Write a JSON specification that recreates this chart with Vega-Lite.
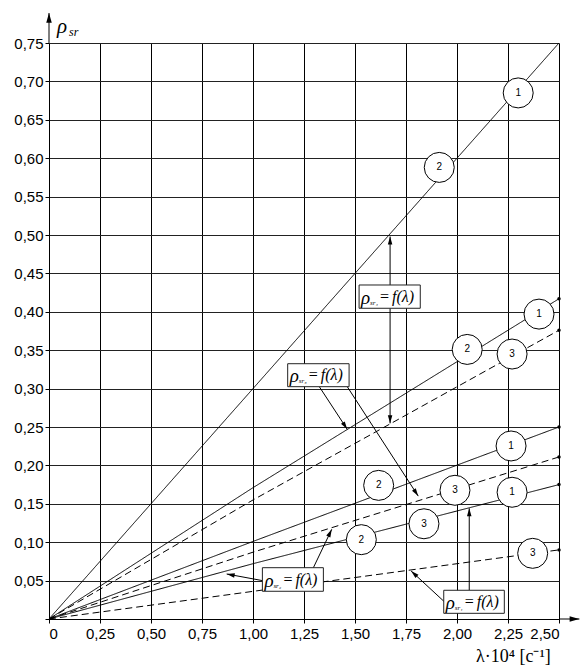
{
  "$schema": "https://vega.github.io/schema/vega-lite/v6.json",
  "width": 510,
  "height": 576,
  "autosize": "none",
  "padding": {"left": 49, "top": 43, "right": 23, "bottom": 49},
  "background": "white",
  "config": {
    "view": {"stroke": null},
    "axis": {
      "grid": true,
      "gridColor": "#000000",
      "gridWidth": 1,
      "gridOpacity": 1,
      "domainColor": "#000000",
      "domainWidth": 1,
      "tickColor": "#000000",
      "tickSize": 4,
      "labelFont": "Liberation Sans",
      "labelFontSize": 15,
      "labelColor": "#000000",
      "labelOverlap": false,
      "title": null
    }
  },
  "datasets": {
    "curves": [
      {"curve": "A", "style": "solid", "x": 0, "y": 0},
      {"curve": "A", "style": "solid", "x": 2.5, "y": 0.75},
      {"curve": "B", "style": "solid", "x": 0, "y": 0},
      {"curve": "B", "style": "solid", "x": 1.0, "y": 0.171},
      {"curve": "B", "style": "solid", "x": 2.5, "y": 0.417},
      {"curve": "C", "style": "dashed", "x": 0, "y": 0},
      {"curve": "C", "style": "dashed", "x": 1.0, "y": 0.155},
      {"curve": "C", "style": "dashed", "x": 2.5, "y": 0.376},
      {"curve": "D", "style": "solid", "x": 0, "y": 0},
      {"curve": "D", "style": "solid", "x": 1.0, "y": 0.101},
      {"curve": "D", "style": "solid", "x": 2.5, "y": 0.25},
      {"curve": "E", "style": "dashed", "x": 0, "y": 0},
      {"curve": "E", "style": "dashed", "x": 1.0, "y": 0.087},
      {"curve": "E", "style": "dashed", "x": 2.5, "y": 0.211},
      {"curve": "F", "style": "solid", "x": 0, "y": 0},
      {"curve": "F", "style": "solid", "x": 1.0, "y": 0.072},
      {"curve": "F", "style": "solid", "x": 2.5, "y": 0.175},
      {"curve": "G", "style": "dashed", "x": 0, "y": 0},
      {"curve": "G", "style": "dashed", "x": 1.0, "y": 0.036},
      {"curve": "G", "style": "dashed", "x": 2.5, "y": 0.09}
    ],
    "ends": [
      {"x": 2.5, "y": 0.417},
      {"x": 2.5, "y": 0.376},
      {"x": 2.5, "y": 0.25},
      {"x": 2.5, "y": 0.211},
      {"x": 2.5, "y": 0.175},
      {"x": 2.5, "y": 0.09}
    ],
    "arrows": [
      {"x": 1.672, "y": 0.435, "x2": 1.672, "y2": 0.498},
      {"x": 1.672, "y": 0.4046, "x2": 1.672, "y2": 0.2548},
      {"x": 1.325, "y": 0.3025, "x2": 1.462, "y2": 0.247},
      {"x": 1.462, "y": 0.3025, "x2": 1.81, "y2": 0.16},
      {"x": 1.296, "y": 0.0668, "x2": 1.386, "y2": 0.1168},
      {"x": 1.046, "y": 0.05, "x2": 0.871, "y2": 0.0586},
      {"x": 2.06, "y": 0.0374, "x2": 2.06, "y2": 0.1441},
      {"x": 1.938, "y": 0.0225, "x2": 1.775, "y2": 0.0625}
    ],
    "axisArrows": [
      {"x": 0, "y": 0.75, "x2": 0, "y2": 0.789},
      {"x": 2.5, "y": 0, "x2": 2.6, "y2": 0}
    ],
    "boxes": [
      {"x1": 1.52, "x2": 1.82, "y1": 0.4349, "y2": 0.4046, "ym": 0.4197, "sub": "sr₄"},
      {"x1": 1.17, "x2": 1.471, "y1": 0.3324, "y2": 0.3025, "ym": 0.3175, "sub": "sr₃"},
      {"x1": 1.046, "x2": 1.345, "y1": 0.0668, "y2": 0.0361, "ym": 0.0514, "sub": "sr₂"},
      {"x1": 1.935, "x2": 2.232, "y1": 0.0374, "y2": 0.0074, "ym": 0.0224, "sub": "sr₁"}
    ],
    "circles": [
      {"x": 2.3, "y": 0.685, "label": "1"},
      {"x": 1.913, "y": 0.588, "label": "2"},
      {"x": 2.402, "y": 0.397, "label": "1"},
      {"x": 2.05, "y": 0.351, "label": "2"},
      {"x": 2.27, "y": 0.345, "label": "3"},
      {"x": 2.265, "y": 0.2253, "label": "1"},
      {"x": 1.616, "y": 0.174, "label": "2"},
      {"x": 1.99, "y": 0.1676, "label": "3"},
      {"x": 2.27, "y": 0.165, "label": "1"},
      {"x": 1.838, "y": 0.124, "label": "3"},
      {"x": 1.531, "y": 0.1033, "label": "2"},
      {"x": 2.371, "y": 0.0855, "label": "3"}
    ]
  },
  "layer": [
    {
      "data": {"name": "curves"},
      "mark": {"type": "line", "color": "#000000", "strokeWidth": 1},
      "encoding": {
        "x": {
          "field": "x", "type": "quantitative",
          "scale": {"domain": [0, 2.5], "nice": false},
          "axis": {
            "values": [0, 0.25, 0.5, 0.75, 1, 1.25, 1.5, 1.75, 2, 2.25, 2.5],
            "tickCount": 30,
            "labelExpr": "datum.value == 0 ? '0' : replace(format(datum.value, '.2f'), '.', ',')",
            "labelPadding": 3
          }
        },
        "y": {
          "field": "y", "type": "quantitative",
          "scale": {"domain": [0, 0.75], "nice": false},
          "axis": {
            "values": [0, 0.05, 0.1, 0.15, 0.2, 0.25, 0.3, 0.35, 0.4, 0.45, 0.5, 0.55, 0.6, 0.65, 0.7, 0.75],
            "tickCount": 30,
            "labelExpr": "datum.value == 0 ? '' : replace(format(datum.value, '.2f'), '.', ',')",
            "gridColor": "#222222",
            "gridWidth": 1.2,
            "labelPadding": 2
          }
        },
        "detail": {"field": "curve"},
        "strokeDash": {
          "field": "style", "type": "nominal",
          "scale": {"domain": ["solid", "dashed"], "range": [[1, 0], [7, 4]]},
          "legend": null
        }
      }
    },
    {
      "data": {"name": "ends"},
      "mark": {"type": "point", "filled": true, "color": "#000000", "size": 12, "opacity": 1},
      "encoding": {
        "x": {"field": "x", "type": "quantitative"},
        "y": {"field": "y", "type": "quantitative"}
      }
    },
    {
      "data": {"name": "axisArrows"},
      "mark": {"type": "rule", "color": "#000000", "strokeWidth": 1},
      "encoding": {
        "x": {"field": "x", "type": "quantitative"},
        "y": {"field": "y", "type": "quantitative"},
        "x2": {"field": "x2"},
        "y2": {"field": "y2"}
      }
    },
    {
      "data": {"name": "axisArrows"},
      "transform": [{"calculate": "atan2((datum.x2 - datum.x) * 204, (datum.y2 - datum.y) * 768) * 180 / PI", "as": "ang"}],
      "mark": {"type": "point", "shape": "M0,0L-0.45,1.6L0.45,1.6Z", "filled": true, "color": "#000000", "size": 150, "opacity": 1},
      "encoding": {
        "x": {"field": "x2", "type": "quantitative"},
        "y": {"field": "y2", "type": "quantitative"},
        "angle": {"field": "ang", "type": "quantitative", "scale": null}
      }
    },
    {
      "data": {"name": "arrows"},
      "mark": {"type": "rule", "color": "#000000", "strokeWidth": 1},
      "encoding": {
        "x": {"field": "x", "type": "quantitative"},
        "y": {"field": "y", "type": "quantitative"},
        "x2": {"field": "x2"},
        "y2": {"field": "y2"}
      }
    },
    {
      "data": {"name": "arrows"},
      "transform": [{"calculate": "atan2((datum.x2 - datum.x) * 204, (datum.y2 - datum.y) * 768) * 180 / PI", "as": "ang"}],
      "mark": {"type": "point", "shape": "M0,0L-0.45,1.6L0.45,1.6Z", "filled": true, "color": "#000000", "size": 100, "opacity": 1},
      "encoding": {
        "x": {"field": "x2", "type": "quantitative"},
        "y": {"field": "y2", "type": "quantitative"},
        "angle": {"field": "ang", "type": "quantitative", "scale": null}
      }
    },
    {
      "data": {"name": "boxes"},
      "mark": {"type": "rect", "fill": "#ffffff", "stroke": "#222222", "strokeWidth": 1},
      "encoding": {
        "x": {"field": "x1", "type": "quantitative"},
        "x2": {"field": "x2"},
        "y": {"field": "y1", "type": "quantitative"},
        "y2": {"field": "y2"}
      }
    },
    {
      "data": {"name": "boxes"},
      "mark": {"type": "text", "text": "ρ", "align": "left", "baseline": "middle", "dx": 2, "dy": 1, "font": "Liberation Serif", "fontStyle": "italic", "fontSize": 19, "color": "#000000"},
      "encoding": {
        "x": {"field": "x1", "type": "quantitative"},
        "y": {"field": "ym", "type": "quantitative"}
      }
    },
    {
      "data": {"name": "boxes"},
      "mark": {"type": "text", "align": "left", "baseline": "middle", "dx": 11, "dy": 6, "font": "Liberation Serif", "fontStyle": "italic", "fontSize": 7, "color": "#000000"},
      "encoding": {
        "x": {"field": "x1", "type": "quantitative"},
        "y": {"field": "ym", "type": "quantitative"},
        "text": {"field": "sub"}
      }
    },
    {
      "data": {"name": "boxes"},
      "mark": {"type": "text", "text": "=", "align": "left", "baseline": "middle", "dx": 21, "dy": 0, "font": "Liberation Serif", "fontSize": 16, "color": "#000000"},
      "encoding": {
        "x": {"field": "x1", "type": "quantitative"},
        "y": {"field": "ym", "type": "quantitative"}
      }
    },
    {
      "data": {"name": "boxes"},
      "mark": {"type": "text", "text": "f(λ)", "align": "left", "baseline": "middle", "dx": 33, "dy": 0, "font": "Liberation Serif", "fontStyle": "italic", "fontSize": 16, "color": "#000000"},
      "encoding": {
        "x": {"field": "x1", "type": "quantitative"},
        "y": {"field": "ym", "type": "quantitative"}
      }
    },
    {
      "data": {"name": "circles"},
      "mark": {"type": "point", "shape": "circle", "filled": true, "fill": "#ffffff", "stroke": "#000000", "strokeWidth": 1, "size": 900, "opacity": 1},
      "encoding": {
        "x": {"field": "x", "type": "quantitative"},
        "y": {"field": "y", "type": "quantitative"}
      }
    },
    {
      "data": {"name": "circles"},
      "mark": {"type": "text", "align": "center", "baseline": "middle", "font": "Liberation Sans", "fontSize": 10, "color": "#000000"},
      "encoding": {
        "x": {"field": "x", "type": "quantitative"},
        "y": {"field": "y", "type": "quantitative"},
        "text": {"field": "label"}
      }
    },
    {
      "data": {"values": [{"x": 0.039, "y": 0.763, "t": "ρ"}]},
      "mark": {"type": "text", "align": "left", "baseline": "alphabetic", "font": "Liberation Serif", "fontStyle": "italic", "fontSize": 21, "color": "#000000"},
      "encoding": {
        "x": {"field": "x", "type": "quantitative"},
        "y": {"field": "y", "type": "quantitative"},
        "text": {"field": "t"}
      }
    },
    {
      "data": {"values": [{"x": 0.098, "y": 0.759, "t": "sr"}]},
      "mark": {"type": "text", "align": "left", "baseline": "alphabetic", "font": "Liberation Serif", "fontStyle": "italic", "fontSize": 12, "color": "#000000"},
      "encoding": {
        "x": {"field": "x", "type": "quantitative"},
        "y": {"field": "y", "type": "quantitative"},
        "text": {"field": "t"}
      }
    },
    {
      "data": {"values": [{"x": 2.093, "y": -0.056, "t": "λ·10⁴ [c⁻¹]"}]},
      "mark": {"type": "text", "align": "left", "baseline": "alphabetic", "font": "Liberation Serif", "fontSize": 18, "color": "#000000"},
      "encoding": {
        "x": {"field": "x", "type": "quantitative"},
        "y": {"field": "y", "type": "quantitative"},
        "text": {"field": "t"}
      }
    }
  ]
}
